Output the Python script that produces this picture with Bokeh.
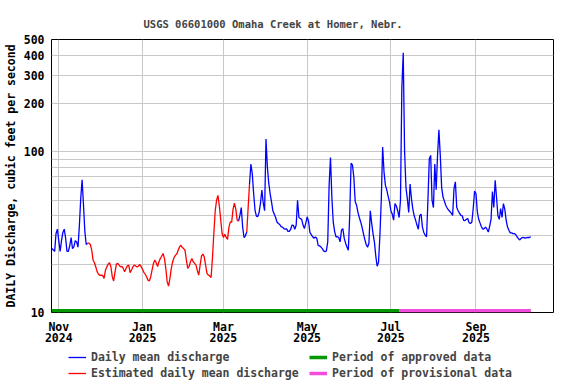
import pandas as pd
from bokeh.plotting import figure
from bokeh.layouts import column
from bokeh.models import (FixedTicker, Legend, LegendItem, BasicTickFormatter, Range1d)
from bokeh.embed import file_html
from bokeh.resources import INLINE

# ---------------- data ----------------
title_text = "USGS 06601000 Omaha Creek at Homer, Nebr."
y_label = "DAILY Discharge, cubic feet per second"
start_date = "2024-10-27"
discharge = [
    25, 24.5, 24, 31, 33, 28, 24, 28, 31.5, 33,
    29, 24, 24, 26, 29.3, 25, 25.6, 28, 27.5, 25.5,
    34.5, 51, 67, 47, 32, 26.5, 27, 27, 26.5, 24.5,
    21.2, 20.4, 19.2, 17.9, 17.3, 17, 17.1, 17, 16.3, 18.3,
    19.2, 20, 20.4, 19.2, 16.7, 15.7, 17.9, 20, 20.2, 19.7,
    19.2, 19.4, 18.8, 17.9, 18.8, 19.5, 19.7, 17.7, 18.4, 19.2,
    19.7, 19.5, 19.2, 19.4, 19.9, 19.3, 18.6, 17.8, 17.3, 16.7,
    15.9, 15.7, 16.7, 18.4, 20.2, 21.2, 20.4, 19.3, 20.7, 21.7,
    22.4, 23.3, 21.7, 18.8, 15.5, 14.6, 16.3, 18.8, 20.7, 22,
    22.7, 23.1, 24.4, 25.6, 26.2, 25.4, 25, 24.4, 21.2, 18.8,
    19.4, 20.7, 21.7, 20.7, 20.2, 19.7, 18.2, 17.1, 19.7, 22.4,
    23.1, 22.2, 19.7, 17.5, 17.1, 16.9, 16.5, 22, 31, 43,
    50, 53.6, 46, 38, 31, 29.3, 30.7, 29.3, 28.5, 34,
    36.6, 36.5, 44, 48, 44, 37.6, 37, 40.2, 45, 34,
    29.3, 30, 31.7, 45, 63, 84, 73, 55, 43.4, 39.8,
    39.5, 42, 48, 57.7, 48, 43, 120, 80.6, 64, 55,
    49, 43, 41, 39, 36.6, 35.8, 35.3, 34.2, 34, 33.3,
    33, 33.2, 32, 32, 33, 35, 34.8, 33, 35, 50,
    39, 38.5, 38, 35, 33.3, 36, 39.4, 37, 31.5, 30.5,
    29.6, 29, 29.5, 29, 26.2, 26, 25.6, 25, 24.2, 23.9,
    24.2, 27.5, 62, 92, 52, 36.6, 32, 29.6, 29.6, 29.3,
    27.5, 32.5, 33.3, 29, 27, 25.6, 24.4, 40, 85, 83,
    69.6, 49, 46.5, 42, 39, 36.6, 34, 31, 28.5, 26.5,
    25.5, 27, 43, 36, 31, 27.5, 22.5, 19.4, 20.5, 30,
    50, 107, 75, 62, 58, 53, 48.8, 43, 41, 37.6,
    47.6, 46, 43, 39, 50, 250, 413, 100, 60, 51,
    42, 63, 51, 44, 40, 37.6, 35, 33, 40, 41,
    34, 31.5, 30.3, 29.6, 50, 90.6, 95, 50, 45, 84,
    58, 95, 137, 95, 60, 52.3, 49.3, 46.5, 44.7, 43.4,
    42.5, 41.5, 40.2, 59, 65, 45, 43, 41.5, 40.2, 40,
    37.5, 37.3, 38, 38.5, 36.2, 35.8, 36.6, 44.4, 57, 55,
    42.3, 38, 36, 34.2, 33, 33.3, 34, 33, 31.7, 34.5,
    38, 56.5, 45, 66.6, 52, 40, 38, 44.4, 39, 47.6,
    44, 37.6, 34, 32.5, 31.3, 31.3, 31, 31, 30.5, 29.5,
    28.8, 28.3, 29, 29.3, 29.2, 29, 29.2, 29.3, 29.3, 29.6,
]
estimated_periods = [("2024-11-23", "2025-03-11"), ("2025-03-19", "2025-03-19")]
approved_period = ("2024-10-27", "2025-07-07")
provisional_period = ("2025-07-07", "2025-10-11")
tick_dates = ["2024-11-01", "2025-01-01", "2025-03-01", "2025-05-01", "2025-07-01", "2025-09-01"]
tick_labels = ["Nov\n2024", "Jan\n2025", "Mar\n2025", "May\n2025", "Jul\n2025", "Sep\n2025"]
y_major = [10, 100, 200, 300, 400, 500]
y_minor = [20, 30, 40, 50, 60, 70, 80, 90]
x_window = ("2024-10-26 17:00", "2025-10-27 12:00")
legend_labels = ["Daily mean discharge", "Estimated daily mean discharge",
                 "Period of approved data", "Period of provisional data"]

BLUE, RED, GREEN, PINK = "#0000ff", "#ff0000", "#009900", "#f54bdc"


def ms(s):
    return pd.Timestamp(s).timestamp() * 1000.0


dates = pd.date_range(start_date, periods=len(discharge), freq="D")
xms = [d.timestamp() * 1000.0 for d in dates]
est = [any(pd.Timestamp(a) <= d <= pd.Timestamp(b) for a, b in estimated_periods) for d in dates]
n = len(discharge)

# runs of approved / estimated values
runs = []
i = 0
while i < n:
    j = i
    while j + 1 < n and est[j + 1] == est[i]:
        j += 1
    runs.append((i, j, est[i]))
    i = j + 1

blue_xs, blue_ys, red_xs, red_ys = [], [], [], []
for a, b, e in runs:
    if e:
        a2, b2 = max(a - 1, 0), min(b + 1, n - 1)
        red_xs.append(xms[a2:b2 + 1]); red_ys.append(discharge[a2:b2 + 1])
    else:
        blue_xs.append(xms[a:b + 1]); blue_ys.append(discharge[a:b + 1])

FONT = "DejaVu Sans Mono"

p = figure(width=576, height=348, x_axis_type="datetime", y_axis_type="log",
           x_range=Range1d(ms(x_window[0]), ms(x_window[1])), y_range=Range1d(10, 500),
           output_backend="svg", toolbar_location=None,
           min_border_left=51, min_border_right=23, min_border_top=39, min_border_bottom=36)

p.title.text = title_text
p.title.text_font = FONT
p.title.text_font_size = "10.5px"
p.title.text_font_style = "bold"
p.title.align = "left"
p.title.offset = 92
p.title.standoff = 20

p.outline_line_color = "black"
p.outline_line_width = 1
p.background_fill_color = "white"
p.border_fill_color = "white"

# axes
xt = FixedTicker(ticks=[ms(t) for t in tick_dates])
p.xaxis.ticker = xt
p.xgrid.ticker = xt
p.xaxis.major_label_overrides = {ms(t): lab for t, lab in zip(tick_dates, tick_labels)}
yt = FixedTicker(ticks=y_major, minor_ticks=y_minor)
p.yaxis.ticker = yt
p.ygrid.ticker = yt
p.yaxis.formatter = BasicTickFormatter()
p.yaxis.axis_label = y_label

for ax in (p.xaxis[0], p.yaxis[0]):
    ax.axis_line_color = None
    ax.major_tick_line_color = None
    ax.minor_tick_line_color = None
    ax.major_tick_out = 0
    ax.major_tick_in = 0
    ax.minor_tick_out = 0
    ax.minor_tick_in = 0
    ax.major_label_text_font = FONT
    ax.major_label_text_font_size = "11.5px"
    ax.major_label_text_font_style = "bold"
    ax.major_label_text_color = "black"
    ax.axis_label_text_font = FONT
    ax.axis_label_text_font_size = "11.5px"
    ax.axis_label_text_font_style = "bold"
    ax.axis_label_text_color = "black"

p.xaxis.major_label_standoff = 7
p.xaxis.major_label_text_line_height = 0.85
p.yaxis.major_label_standoff = 7
p.yaxis.axis_label_standoff = 3

grid_color = "#c8c8c8"
p.xgrid.grid_line_color = grid_color
p.ygrid.grid_line_color = grid_color
p.ygrid.minor_grid_line_color = grid_color

# data lines
p.multi_line(blue_xs, blue_ys, line_color=BLUE, line_width=1.3)
p.multi_line(red_xs, red_ys, line_color=RED, line_width=1.3)
bar_y = [10.25, 10.25]
p.line([ms(approved_period[0]), ms(approved_period[1])], bar_y, line_color=GREEN, line_width=3.5)
p.line([ms(provisional_period[0]), ms(provisional_period[1])], bar_y, line_color=PINK, line_width=3.5)

# ---------------- legend strip ----------------
leg = figure(width=576, height=36, x_range=Range1d(0, 1), y_range=Range1d(0, 1),
             output_backend="svg", toolbar_location=None, min_border=0,
             x_axis_location=None, y_axis_location=None)
leg.outline_line_color = None
leg.xgrid.visible = False
leg.ygrid.visible = False
leg.background_fill_color = "white"
leg.border_fill_color = "white"

nan = float("nan")
styles = [(BLUE, 1.3), (RED, 1.3), (GREEN, 3.5), (PINK, 3.5)]
items = []
for lab, (c, w) in zip(legend_labels, styles):
    r = leg.line([nan], [nan], line_color=c, line_width=w)   # legend swatch only
    items.append(LegendItem(label=lab, renderers=[r]))

legend = Legend(items=items, orientation="vertical", nrows=2, location=(17, 4))
legend.label_text_font = FONT
legend.label_text_font_size = "11.5px"
legend.label_text_font_style = "bold"
legend.glyph_width = 18
legend.glyph_height = 14
legend.label_height = 14
legend.label_width = 216
legend.label_standoff = 5
legend.spacing = 2
legend.padding = 0
legend.margin = 0
legend.border_line_color = None
legend.background_fill_alpha = 0
leg.add_layout(legend, "center")

layout = column(p, leg, spacing=0)
open("out.html", "w").write(file_html(layout, INLINE))
